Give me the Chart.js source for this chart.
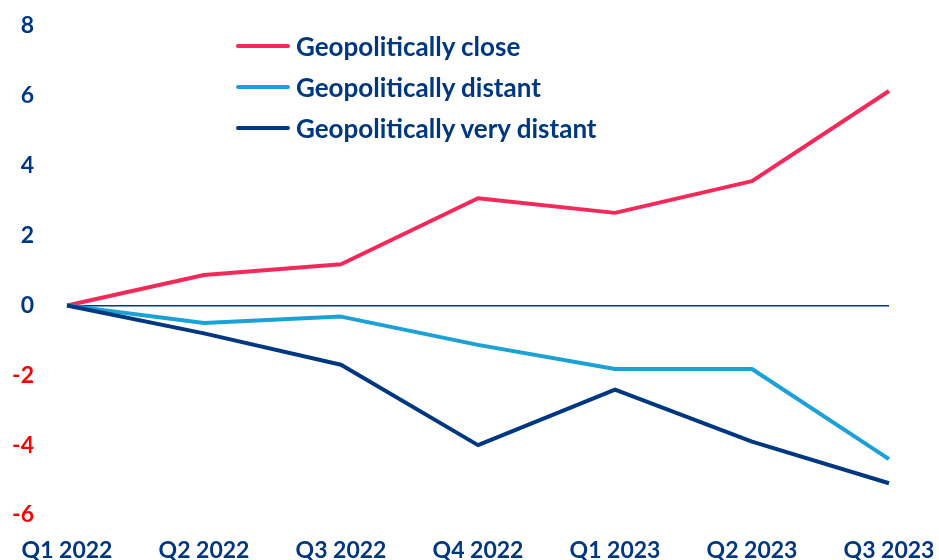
<!DOCTYPE html>
<html>
<head>
<meta charset="utf-8">
<script src="https://cdn.jsdelivr.net/npm/chart.js@4.4.0/dist/chart.umd.min.js"></script>
<style>
  html, body { margin: 0; padding: 0; background: #fff; }
  #wrap { position: relative; width: 939px; height: 560px; }
  #legend { position: absolute; left: 236px; top: 25px; font-family: Lato, sans-serif; font-weight: 700; font-size: 26px; color: #003781; }
  .item { display: flex; align-items: center; height: 41px; }
  .swatch { width: 54px; height: 4px; border-radius: 2px; margin-right: 6px; }
</style>
</head>
<body>
<div id="wrap">
  <canvas id="chart" width="939" height="560"></canvas>
  <div id="legend"></div>
</div>
<script>
const quarters = ['Q1 2022', 'Q2 2022', 'Q3 2022', 'Q4 2022', 'Q1 2023', 'Q2 2023', 'Q3 2023'];
const close = [0, 0.87, 1.18, 3.07, 2.65, 3.56, 6.14];
const distant = [0, -0.5, -0.32, -1.13, -1.82, -1.82, -4.4];
const veryDistant = [0, -0.8, -1.7, -4.0, -2.41, -3.9, -5.09];
const seriesNames = ['Geopolitically close', 'Geopolitically distant', 'Geopolitically very distant'];
const seriesColors = ['#f5285a', '#1aa1d6', '#003781'];

const navy = '#003781';
const tickFont = { family: 'Lato', size: 23, weight: 'bold' };

function makeSet(i, data) {
    return {
        label: seriesNames[i],
        data: data,
        borderColor: seriesColors[i],
        backgroundColor: seriesColors[i],
        borderWidth: 4,
        pointRadius: 0,
        tension: 0,
        borderJoinStyle: 'round'
    }
}

const ctx = document.getElementById('chart').getContext('2d');
const chart = new Chart(ctx, {
    type: 'line',
    data: {
        labels: quarters,
        datasets: [makeSet(2, veryDistant), makeSet(1, distant), makeSet(0, close)]
    },
    options: {
        responsive: false,
        animation: false,
        layout: { padding: { top: 26, right: 50, left: 0, bottom: 0 } },
        plugins: { legend: { display: false }, tooltip: { enabled: false } },
        scales: {
            x: {
                offset: false,
                grid: { display: false, drawTicks: false },
                border: { display: false },
                ticks: { color: navy, font: tickFont, padding: 22, maxRotation: 0, autoSkip: false },
                afterFit: (s) => {
                    s.height = 45;
                    // labels may hang over the edges like in the original
                    s.paddingLeft = 0;
                    s.paddingRight = 0;
                }
            },
            y: {
                min: -6,
                max: 8,
                grid: {
                    drawTicks: false,
                    color: (c) => c.tick && c.tick.value === 0 ? navy : 'rgba(0,0,0,0)',
                    lineWidth: 1.5
                },
                border: { display: false },
                ticks: {
                    stepSize: 2,
                    padding: 33,
                    font: tickFont,
                    color: (c) => c.tick.value < 0 ? '#ff0000' : navy
                },
                afterFit: (s) => {
                    s.width = 67;
                    s.paddingTop = 0;
                    s.paddingBottom = 0;
                }
            }
        }
    }
});

// html legend, same order as reference
const legend = document.getElementById('legend');
seriesNames.forEach((name, i) => {
    const row = document.createElement('div');
    row.className = 'item';
    const sw = document.createElement('span');
    sw.className = 'swatch';
    sw.style.background = seriesColors[i];
    const txt = document.createElement('span');
    txt.textContent = name;
    row.appendChild(sw);
    row.appendChild(txt);
    legend.appendChild(row);
});
</script>
</body>
</html>
